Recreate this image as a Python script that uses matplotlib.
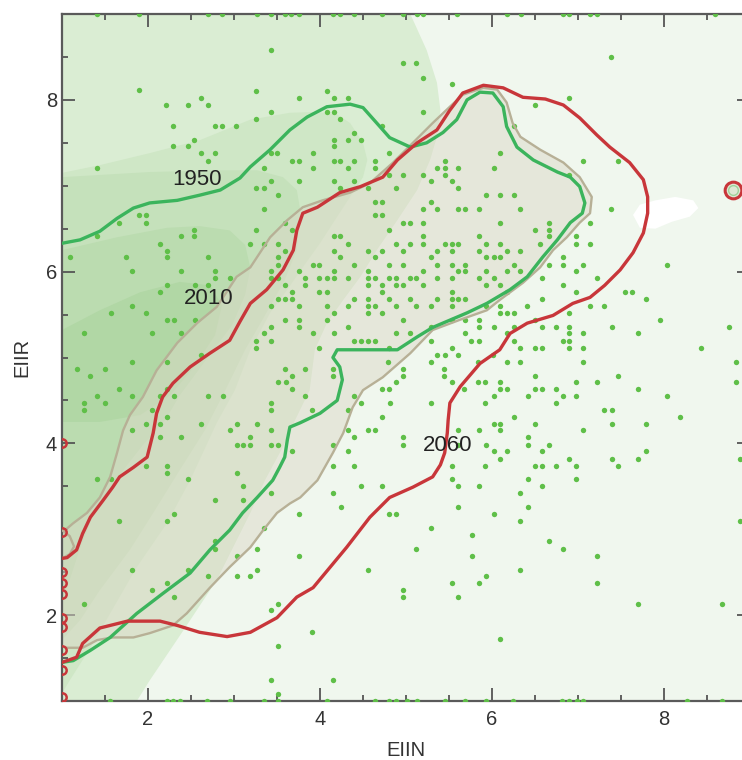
import matplotlib.pyplot as plt
import numpy as np
from matplotlib.ticker import MultipleLocator

plt.rcParams['font.family'] = ['Liberation Sans', 'DejaVu Sans']

# density bands (lightest to darkest), outlines in data units
band1_x = [5.05, 5.24, 5.36, 5.40, 5.36, 5.28, 5.13, 4.90, 4.66, 4.47, 4.27, 4.08, 3.94, 3.88, 3.71, 3.57, 3.36, 3.19, 2.80, 2.41, 2.02, 1.87, 1.0, 1.0]
band1_y = [9.00, 8.58, 8.20, 7.88, 7.57, 7.30, 6.95, 6.60, 6.25, 5.94, 5.67, 5.40, 5.09, 4.62, 4.27, 3.96, 3.57, 3.19, 2.41, 1.82, 1.24, 1.00, 1.0, 9.0]
band2_x = [1.00, 1.44, 2.02, 2.60, 3.19, 3.65, 3.97, 4.20, 4.35, 4.50, 4.55, 4.50, 4.35, 4.20, 4.00, 3.80, 3.62, 3.42, 3.19, 3.01, 2.80, 2.49, 2.22, 1.87, 1.56, 1.33, 1.09, 1.00]
band2_y = [7.15, 7.24, 7.38, 7.53, 7.77, 7.85, 7.86, 7.83, 7.73, 7.50, 7.30, 7.10, 6.87, 6.64, 6.33, 6.05, 5.79, 5.52, 5.09, 4.62, 4.24, 3.57, 3.07, 2.56, 2.02, 1.62, 1.24, 1.09]
band3_x = [1.00, 2.02, 2.80, 3.27, 3.57, 3.73, 3.77, 3.73, 3.59, 3.36, 3.13, 2.90, 2.66, 2.37, 2.08, 1.79, 1.44, 1.21, 1.00]
band3_y = [7.10, 7.16, 7.18, 7.18, 7.10, 6.95, 6.72, 6.25, 5.90, 5.49, 5.09, 4.62, 4.15, 3.69, 3.22, 2.76, 2.29, 1.94, 1.71]
band4_x = [1.00, 1.64, 2.22, 2.60, 2.95, 3.13, 3.19, 3.13, 2.98, 2.80, 2.57, 2.37, 2.20, 1.94, 1.76, 1.56, 1.36, 1.21, 1.09, 1.00]
band4_y = [6.25, 6.40, 6.51, 6.53, 6.48, 6.31, 6.04, 5.73, 5.38, 5.14, 4.83, 4.56, 4.27, 3.98, 3.75, 3.48, 3.16, 2.78, 2.41, 2.17]
band5_x = [1.00, 1.44, 1.91, 2.37, 2.72, 2.86, 2.78, 2.55, 2.26, 1.91, 1.44, 1.00]
band5_y = [5.32, 5.55, 5.76, 5.88, 5.84, 5.61, 5.26, 4.91, 4.56, 4.33, 4.25, 4.25]
band_colors = ['#daedd3', '#cfe7c6', '#c5e1bb', '#bbdcb0', '#b1d7a5']

# contour lines
c1950_x = [1.00, 1.21, 1.44, 1.64, 1.83, 2.02, 2.34, 2.60, 2.84, 3.07, 3.19, 3.42, 3.65, 3.85, 4.08, 4.35, 4.50, 4.66, 4.81, 5.05, 5.24, 5.43, 5.59, 5.71, 5.86, 6.01, 6.13, 6.17, 6.29, 6.48, 6.76, 6.91, 7.02, 7.08, 7.05, 6.91, 6.76, 6.59, 6.41, 6.21, 5.94, 5.71, 5.31, 5.13, 4.90, 4.55, 4.20, 4.15, 4.23, 4.26, 4.20, 4.00, 3.77, 3.65, 3.62, 3.59, 3.53, 3.45, 3.27, 3.10, 2.95, 2.72, 2.49, 2.17, 1.87, 1.56, 1.33, 1.13, 1.00]
c1950_y = [6.33, 6.37, 6.47, 6.62, 6.74, 6.80, 6.83, 6.89, 6.95, 7.09, 7.22, 7.42, 7.65, 7.80, 7.92, 7.95, 7.91, 7.73, 7.56, 7.45, 7.50, 7.62, 7.77, 8.00, 8.09, 8.08, 7.92, 7.69, 7.45, 7.30, 7.16, 7.10, 6.99, 6.80, 6.68, 6.57, 6.37, 6.17, 5.94, 5.79, 5.63, 5.52, 5.35, 5.24, 5.09, 5.09, 5.09, 5.00, 4.89, 4.74, 4.50, 4.35, 4.24, 4.19, 4.04, 3.84, 3.72, 3.57, 3.37, 3.19, 2.99, 2.76, 2.49, 2.25, 2.02, 1.74, 1.59, 1.47, 1.45]
c2010_x = [1.06, 1.24, 1.41, 1.59, 1.83, 2.02, 2.29, 2.45, 2.72, 2.95, 3.19, 3.34, 3.50, 3.65, 3.77, 3.97, 4.15, 4.27, 4.38, 4.50, 4.73, 5.05, 5.31, 5.63, 5.94, 6.09, 6.36, 6.56, 6.71, 6.87, 7.02, 7.14, 7.16, 7.02, 6.83, 6.56, 6.33, 6.24, 6.17, 6.06, 5.90, 5.66, 5.51, 5.31, 5.08, 4.85, 4.58, 4.35, 4.03, 3.80, 3.62, 3.42, 3.19, 3.03, 2.80, 2.57, 2.34, 2.10, 1.94, 1.79, 1.71, 1.64, 1.56, 1.44, 1.29, 1.13, 1.06]
c2010_y = [1.62, 1.62, 1.71, 1.74, 1.74, 1.79, 1.88, 2.02, 2.32, 2.56, 2.79, 2.99, 3.19, 3.30, 3.37, 3.57, 3.89, 4.12, 4.42, 4.62, 4.77, 5.05, 5.32, 5.44, 5.55, 5.67, 5.87, 6.05, 6.25, 6.40, 6.57, 6.68, 6.87, 7.10, 7.27, 7.42, 7.57, 7.73, 7.97, 8.12, 8.14, 8.06, 7.92, 7.73, 7.50, 7.27, 7.03, 6.92, 6.83, 6.75, 6.60, 6.40, 6.05, 5.94, 5.59, 5.40, 5.17, 4.85, 4.54, 4.33, 4.15, 3.89, 3.61, 3.37, 3.19, 3.07, 3.01]
c2010_edge_x = [1.00, 1.09, 1.14, 1.09, 1.00]
c2010_edge_y = [2.99, 2.92, 2.80, 2.71, 2.66]
c2060_x = [1.00, 1.06, 1.17, 1.24, 1.33, 1.48, 1.59, 1.67, 1.83, 1.99, 2.06, 2.10, 2.17, 2.29, 2.49, 2.72, 2.95, 3.07, 3.19, 3.38, 3.57, 3.69, 3.73, 3.80, 3.97, 4.23, 4.47, 4.73, 4.90, 5.13, 5.36, 5.51, 5.66, 5.90, 6.13, 6.36, 6.62, 6.83, 7.02, 7.22, 7.37, 7.60, 7.76, 7.81, 7.81, 7.76, 7.64, 7.49, 7.31, 7.14, 6.94, 6.71, 6.41, 6.21, 6.09, 5.86, 5.63, 5.51, 5.49, 5.48, 5.45, 5.40, 5.31, 5.08, 4.81, 4.58, 4.31, 3.92, 3.73, 3.50, 3.19, 2.92, 2.60, 2.34, 2.14, 1.76, 1.44, 1.24, 1.17, 1.06, 1.00]
c2060_y = [2.66, 2.67, 2.76, 2.95, 3.14, 3.34, 3.49, 3.61, 3.72, 3.84, 4.12, 4.35, 4.54, 4.70, 4.89, 5.05, 5.20, 5.42, 5.63, 5.79, 6.02, 6.25, 6.48, 6.68, 6.75, 6.92, 6.99, 7.10, 7.30, 7.50, 7.65, 7.88, 8.08, 8.17, 8.14, 8.03, 8.01, 7.94, 7.79, 7.59, 7.45, 7.27, 7.07, 6.87, 6.68, 6.45, 6.22, 6.02, 5.84, 5.70, 5.63, 5.49, 5.40, 5.28, 5.09, 4.93, 4.66, 4.47, 4.27, 4.12, 3.89, 3.75, 3.61, 3.49, 3.37, 3.14, 2.79, 2.32, 2.21, 1.97, 1.80, 1.75, 1.80, 1.88, 1.93, 1.93, 1.85, 1.67, 1.51, 1.47, 1.45]
# small 2060 fragments cut by the left border
c2060_edge_y = [4.00, 2.97, 2.50, 2.37, 2.25, 1.97, 1.86, 1.59, 1.36, 1.05]
c2060_ring = (8.80, 6.95)

gap_x = [7.64, 7.72, 7.90, 8.13, 8.34, 8.40, 8.30, 8.09, 7.90, 7.72]
gap_y = [6.66, 6.78, 6.83, 6.87, 6.83, 6.74, 6.64, 6.58, 6.50, 6.51]

labels = ['1950', '2010', '2060']
label_x = [2.57, 2.70, 5.48]
label_y = [7.07, 5.69, 3.97]

# observations, one row per EIIR value: (EIIR, [EIIN, ...])
obs_upper = [
    (8.58, [3.43]), (8.50, [7.38]), (8.43, [4.96, 5.12]), (8.26, [5.20]), (8.18, [5.53]),
    (8.11, [1.89]), (8.10, [3.26, 4.08]), (8.02, [2.62, 3.75, 4.16, 4.32, 6.90]),
    (7.94, [2.21, 2.46, 2.70, 6.50]), (7.86, [3.43, 4.08, 4.16, 5.20]), (7.78, [3.26, 4.23]),
    (7.70, [2.29, 2.78, 2.86, 3.02, 4.72, 6.26]), (7.62, [4.40]), (7.53, [2.54, 4.16, 4.32, 4.48]),
    (7.46, [2.29, 2.46, 4.16]), (7.38, [2.62, 2.78, 3.43, 3.50, 3.92, 4.80, 6.09]),
    (7.29, [2.70, 3.67, 3.75, 4.16, 4.23, 4.40, 4.64, 5.45, 7.06, 7.47]),
    (7.21, [1.41, 3.35, 3.92, 4.32, 4.64, 5.36, 5.45, 5.61, 6.02]),
    (7.13, [4.80, 4.96, 5.20, 5.45, 6.90]), (7.05, [3.43, 3.75, 4.16, 4.40, 5.29, 5.53]),
    (6.97, [3.26, 3.35, 4.23, 4.56, 4.88, 5.61]), (6.89, [3.51, 5.93, 6.09, 6.26]),
    (6.81, [4.64, 4.72, 5.29]), (6.73, [3.35, 5.20, 5.36, 5.61, 5.69, 5.85, 6.33, 7.38]),
    (6.66, [1.90, 1.98, 4.64, 4.72]), (6.57, [1.66, 1.98, 3.59, 4.96, 5.05, 5.20, 6.09, 6.66, 7.14]),
    (6.49, [2.54, 3.26, 3.67, 4.80, 6.50, 6.66]), (6.41, [1.41, 2.38, 2.54, 4.16, 4.23, 5.20, 5.85, 6.66, 6.98]),
    (6.32, [2.14, 3.19, 3.35, 3.51, 4.32, 4.88, 5.05, 5.20, 5.45, 5.53, 5.61, 5.93, 6.09, 6.56, 6.98, 7.14]),
    (6.24, [2.22, 3.59, 4.16, 4.56, 4.72, 4.96, 5.36, 5.53, 5.85, 6.17, 6.33]),
    (6.17, [1.09, 1.74, 2.22, 2.70, 3.51, 4.23, 4.64, 5.29, 5.93, 6.02, 6.09, 6.82]),
    (6.08, [3.51, 3.92, 3.99, 4.40, 4.80, 4.96, 5.36, 5.53, 5.69, 6.26, 6.66, 6.82, 7.06, 8.03]),
    (6.01, [1.81, 2.38, 2.78, 3.43, 3.75, 4.16, 4.56, 5.20, 5.61, 5.69, 5.93, 6.17, 6.33, 6.98]),
    (5.93, [2.78, 2.95, 3.43, 3.51, 3.83, 3.99, 4.08, 4.16, 4.32, 4.56, 4.64, 4.80, 4.88, 5.05, 5.12, 5.36, 5.53, 5.85, 6.02, 6.58, 7.22]),
    (5.84, [2.22, 2.55, 2.70, 3.59, 3.83, 4.56, 4.72, 4.88, 4.96, 5.20, 5.93, 6.09, 6.82]),
    (5.76, [2.14, 3.67, 3.99, 4.08, 4.72, 5.53, 6.17, 6.98, 7.55, 7.63]),
]
obs_middle = [
    (5.68, [3.51, 3.59, 3.67, 4.40, 4.56, 4.80, 5.05, 5.36, 5.53, 5.61, 5.69, 6.58, 7.79]),
    (5.60, [1.81, 3.43, 3.75, 4.08, 4.32, 4.56, 4.64, 4.88, 5.12, 5.29, 5.53, 5.93, 6.09, 6.41, 7.14, 7.30]),
    (5.52, [1.57, 1.98, 4.16, 4.56, 4.72, 6.09, 6.17, 6.26, 6.90]),
    (5.44, [2.22, 2.30, 2.55, 3.59, 3.75, 4.08, 4.96, 5.53, 5.69, 5.85, 6.50, 7.95]),
    (5.36, [3.43, 3.75, 4.32, 5.29, 5.85, 6.02, 6.26, 6.58, 6.74, 6.90, 7.39, 8.76]),
    (5.28, [1.25, 2.05, 2.38, 3.35, 3.92, 4.16, 4.88, 5.05, 5.69, 6.17, 6.90, 7.06, 7.70]),
    (5.19, [3.26, 3.43, 4.40, 4.48, 4.56, 4.64, 5.29, 5.75, 5.85, 6.26, 6.82, 6.90]),
    (5.11, [3.26, 3.99, 4.80, 5.53, 6.33, 6.50, 6.58, 6.90, 7.06, 8.43]),
    (5.03, [2.62, 5.36, 5.45, 5.61, 6.01]),
    (4.95, [1.81, 2.22, 4.79, 5.29, 5.84, 6.17, 6.33, 7.06, 8.84]),
    (4.87, [1.17, 1.50, 3.59, 3.83, 4.15, 4.97, 5.44]),
    (4.79, [1.33, 3.67, 4.15, 4.97, 5.44, 6.50, 7.46]),
    (4.71, [3.51, 3.60, 4.88, 5.53, 5.84, 5.92, 6.09, 6.98, 7.22, 8.84]),
    (4.63, [1.66, 2.22, 3.67, 4.72, 4.80, 5.68, 6.09, 6.17, 6.50, 6.58, 6.74, 7.70]),
    (4.55, [1.41, 1.81, 2.14, 2.30, 2.70, 2.87, 3.83, 4.40, 6.02, 6.42, 6.82, 6.98, 8.03]),
    (4.47, [1.25, 1.50, 3.43, 4.48, 4.81, 5.29, 5.92, 6.74]),
    (4.39, [1.25, 2.05, 3.43, 3.91, 4.33, 7.30, 7.39]),
    (4.31, [2.22, 4.72, 6.25, 8.19]),
    (4.23, [1.98, 2.14, 2.62, 3.03, 3.27, 6.02, 6.09, 6.50, 7.39, 7.79]),
    (4.15, [1.81, 2.95, 3.43, 4.33, 4.56, 4.64, 5.61, 5.85, 6.09, 7.06]),
    (4.07, [2.14, 2.38, 3.19, 4.39, 4.96, 6.42]),
    (3.98, [3.03, 3.11, 3.19, 3.43, 3.51, 4.15, 4.96, 5.61, 5.93, 6.42, 6.66]),
    (3.91, [3.67, 4.32, 6.02, 6.18, 6.58, 7.79]),
    (3.82, [6.09, 6.90, 7.39, 7.70, 8.88]),
    (3.74, [1.98, 2.22, 4.15, 4.39, 5.53, 5.92, 6.50, 6.58, 6.74, 6.98, 7.46]),
]
obs_lower = [
    (3.66, [2.22, 3.03]), (3.59, [1.41, 1.57, 2.46, 5.53, 6.42, 6.98]),
    (3.50, [3.11, 4.48, 4.72, 5.61, 5.85, 6.58]), (3.42, [3.43, 4.15, 6.33]),
    (3.34, [2.78, 3.11]), (3.26, [4.24, 5.61, 6.42]), (3.18, [2.30, 3.75, 4.80, 4.88, 6.02]),
    (3.10, [1.66, 2.22, 6.33, 8.88]), (3.01, [3.35, 5.29]), (2.93, [5.77]),
    (2.86, [2.78, 6.66]), (2.77, [2.78, 3.27, 5.12, 6.82]), (2.69, [3.03, 3.75, 5.77, 7.22]),
    (2.53, [1.81, 2.46, 3.27, 4.56, 6.33]), (2.45, [2.70, 3.03, 3.19, 5.93]),
    (2.37, [2.22, 5.53, 5.85, 7.22]), (2.29, [2.05, 4.96]), (2.21, [2.30, 4.96, 5.61]),
    (2.13, [1.25, 3.51, 7.70, 8.67]), (2.06, [3.43]), (1.80, [3.91]), (1.72, [6.09]),
    (1.64, [3.51]), (1.24, [3.43, 4.15]), (1.08, [3.51]),
]
# observations sitting on the frame
obs_top_x = [1.41, 1.90, 2.70, 2.86, 3.27, 3.43, 3.59, 3.66, 3.76, 4.15, 4.23, 4.40, 4.72, 4.97, 5.13, 5.20, 5.59, 6.17, 6.34, 6.83, 6.90, 7.14, 7.22, 8.59]
obs_bottom_x = [1.56, 2.22, 2.29, 2.37, 2.69, 2.95, 3.35, 3.51, 4.08, 4.64, 4.80, 4.88, 5.01, 5.13, 5.45, 5.69, 5.93, 6.24, 6.81, 6.90, 6.99, 7.06, 8.27, 8.67]

ex, ey = [], []
for yv, xs in obs_upper + obs_middle + obs_lower:
    ex += xs
    ey += [yv] * len(xs)
ex += obs_top_x + obs_bottom_x
ey += [9.0] * len(obs_top_x) + [1.0] * len(obs_bottom_x)

fig = plt.figure(figsize=(7.42, 7.6), dpi=100)
ax = fig.add_axes([62 / 742, 59 / 760, 688 / 742, 687 / 760])
ax.set_facecolor('#f0f7ee')

bands = [(band1_x, band1_y), (band2_x, band2_y), (band3_x, band3_y),
         (band4_x, band4_y), (band5_x, band5_y)]
for (bx, by), col in zip(bands, band_colors):
    ax.fill(bx, by, color=col, lw=0, zorder=1)

# shaded 2010 envelope, closed along the left border
fx = c2010_x + [1.0, 1.0]
fy = c2010_y + [3.01, 1.62]
ax.fill(fx, fy, color='#dcd9c8', alpha=0.5, lw=0, zorder=2)
ax.fill(gap_x, gap_y, color='white', lw=0, zorder=2)

ax.scatter(ex, ey, s=15, color='#5fbf48', linewidths=0, zorder=3)

ax.plot(c2010_x, c2010_y, color='#b7b096', lw=1.7, zorder=4)
ax.plot(c2010_edge_x, c2010_edge_y, color='#b7b096', lw=1.7, zorder=4)
ax.plot(c1950_x, c1950_y, color='#3bb45c', lw=2.4, zorder=5)
ax.plot(c2060_x, c2060_y, color='#c8363a', lw=2.4, zorder=6)
ax.plot([1.0] * len(c2060_edge_y), c2060_edge_y, 'o', ms=6, mfc='none',
        mec='#c8363a', mew=1.8, zorder=6)
ax.plot(*c2060_ring, 'o', ms=12, mfc='#dfe8d5', mec='#c8363a', mew=2.2, zorder=6)
ax.plot(*c2060_ring, 'o', ms=7, mfc='none', mec='#9fd29a', mew=1, zorder=6)

for t, lx, ly in zip(labels, label_x, label_y):
    ax.text(lx, ly, t, fontsize=16, color='#222222', ha='center', va='center', zorder=7)

ax.set_xlim(1, 9)
ax.set_ylim(1, 9)
ax.xaxis.set_major_locator(MultipleLocator(2))
ax.yaxis.set_major_locator(MultipleLocator(2))
ax.xaxis.set_minor_locator(MultipleLocator(0.5))
ax.yaxis.set_minor_locator(MultipleLocator(0.5))
ax.tick_params(which='both', direction='in', top=True, right=True,
               color='#555555', width=1.3, labelsize=14.5, labelcolor='#333333')
ax.tick_params(which='major', length=9.5)
ax.tick_params(which='minor', length=4.5)
ax.tick_params(axis='x', pad=6.5)
ax.tick_params(axis='y', pad=3.6)
for sp in ax.spines.values():
    sp.set_color('#5a5a5a')
    sp.set_linewidth(1.6)

ax.set_xlabel('EIIN', fontsize=14.5, color='#333333')
ax.set_ylabel('EIIR', fontsize=14.5, color='#333333')
ax.xaxis.set_label_coords(0.5, -0.058)
ax.yaxis.set_label_coords(-0.045, 0.5)

fig.savefig('out.png', dpi=100)
